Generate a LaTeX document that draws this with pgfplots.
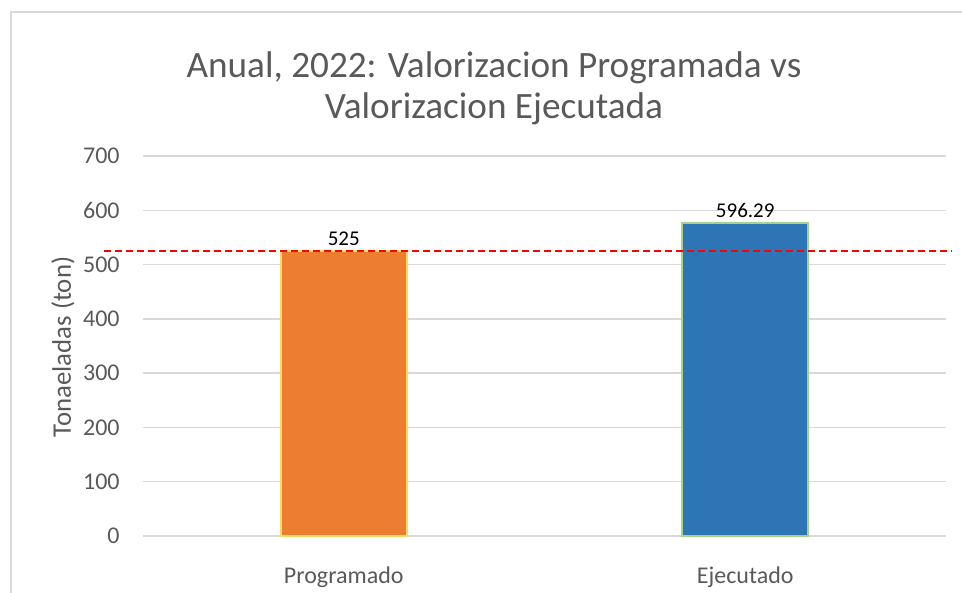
\documentclass[border=0pt]{standalone}
\usepackage{pgfplots}
\pgfplotsset{compat=1.18}
\usepackage{pgfplotstable}
\usepackage{fontspec}
\setmainfont{Carlito}
\definecolor{txt}{HTML}{595959}
\definecolor{gridc}{HTML}{D9D9D9}
\definecolor{orangeb}{HTML}{ED7D31}
\definecolor{orangeedge}{HTML}{FFD966}
\definecolor{blueb}{HTML}{2E75B6}
\definecolor{blueedge}{HTML}{A9D18E}
\pgfplotstableread{
x y label
0 525 525
}\progtab
\pgfplotstableread{
x y label
1 576 596.29
}\ejectab
\begin{document}
\begin{tikzpicture}
\path[use as bounding box] (0pt,0pt) rectangle (481pt,296.5pt);
\draw[gridc, line width=1pt] (5.5pt,0pt) -- (5.5pt,290.5pt) -- (481pt,290.5pt);
\begin{axis}[
  at={(71.5pt,28.5pt)}, anchor=south west,
  scale only axis, width=401.5pt, height=190pt,
  xmin=-0.5, xmax=1.5, ymin=0, ymax=700,
  ytick={0,100,...,700},
  xtick={0,1}, xticklabels={Programado,Ejecutado},
  axis line style={draw=none},
  major tick length=0pt,
  ymajorgrids, grid style={gridc, line width=0.75pt},
  tick label style={font=\fontsize{12}{14}\selectfont, text=txt},
  yticklabel style={anchor=east, inner sep=0pt, xshift=-11.5pt},
  xticklabel style={anchor=center, inner sep=0pt, yshift=-20.5pt},
  /pgf/number format/assume math mode=true,
  clip=false,
  ybar, bar width=63pt, bar shift=0pt,
  nodes near coords, point meta=explicit symbolic,
  every node near coord/.append style={font=\fontsize{10.5}{12}\selectfont, text=black, inner sep=1pt, yshift=1.2pt},
]
\addplot[fill=orangeb, draw=orangeedge, line width=1pt] table[x=x,y=y,meta=label] {\progtab};
\addplot[fill=blueb, draw=blueedge, line width=1pt] table[x=x,y=y,meta=label] {\ejectab};
\end{axis}
\begin{axis}[
  at={(71.5pt,28.5pt)}, anchor=south west,
  scale only axis, width=401.5pt, height=190pt,
  xmin=-0.5, xmax=1.5, ymin=0, ymax=700,
  hide axis, clip=false,
]
\addplot[red, line width=1pt, dash pattern=on 3.5pt off 2pt] coordinates {(-0.597,525) (1.515,525)};
\end{axis}
\node[rotate=90, text=txt, font=\fontsize{13.4}{15}\selectfont] at (31.5pt,123pt) {Tonaeladas (ton)};
\node[text=txt, font=\fontsize{18.6}{20.5}\selectfont, align=center] at (247pt,252.5pt) {Anual, 2022: Valorizacion Programada vs\\Valorizacion Ejecutada};
\end{tikzpicture}
\end{document}
